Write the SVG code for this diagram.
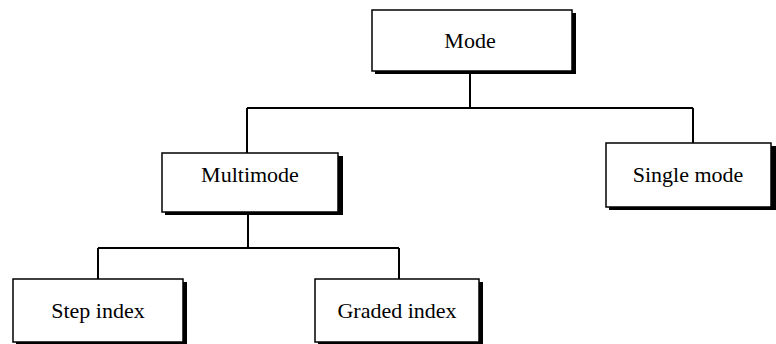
<svg xmlns="http://www.w3.org/2000/svg" width="776" height="344" viewBox="0 0 776 344">
<style>
.sh{fill:#000}
.bx{fill:#fff;stroke:#000;stroke-width:1.5}
.t{font-family:"Liberation Serif","Times New Roman",serif;font-size:22px;fill:#000;text-anchor:middle}
.c{fill:none;stroke:#000;stroke-width:2}
</style>
<rect width="776" height="344" fill="#fff"/>
<g id="connectors">
<path class="c" d="M470 72V108M247 108H693M247 108V153M693 108V143"/>
<path class="c" d="M248 212V248M98 248H399M98 248V279M399 248V279"/>
</g>
<g id="mode">
<rect class="sh" x="375" y="13" width="201" height="61"/>
<rect class="bx" x="372" y="10" width="200" height="61"/>
<text class="t" x="470" y="48">Mode</text>
</g>
<g id="multimode">
<rect class="sh" x="165" y="156" width="178" height="59"/>
<rect class="bx" x="162" y="153" width="176" height="59"/>
<text class="t" x="250" y="182">Multimode</text>
</g>
<g id="singlemode">
<rect class="sh" x="609" y="146" width="167" height="64"/>
<rect class="bx" x="606" y="143" width="165" height="64"/>
<text class="t" x="688" y="182">Single mode</text>
</g>
<g id="stepindex">
<rect class="sh" x="16" y="282" width="171" height="64"/>
<rect class="bx" x="13" y="279" width="170" height="63"/>
<text class="t" x="98" y="318">Step index</text>
</g>
<g id="gradedindex">
<rect class="sh" x="318" y="282" width="165" height="64"/>
<rect class="bx" x="315" y="279" width="164" height="63"/>
<text class="t" x="397" y="318">Graded index</text>
</g>
</svg>
